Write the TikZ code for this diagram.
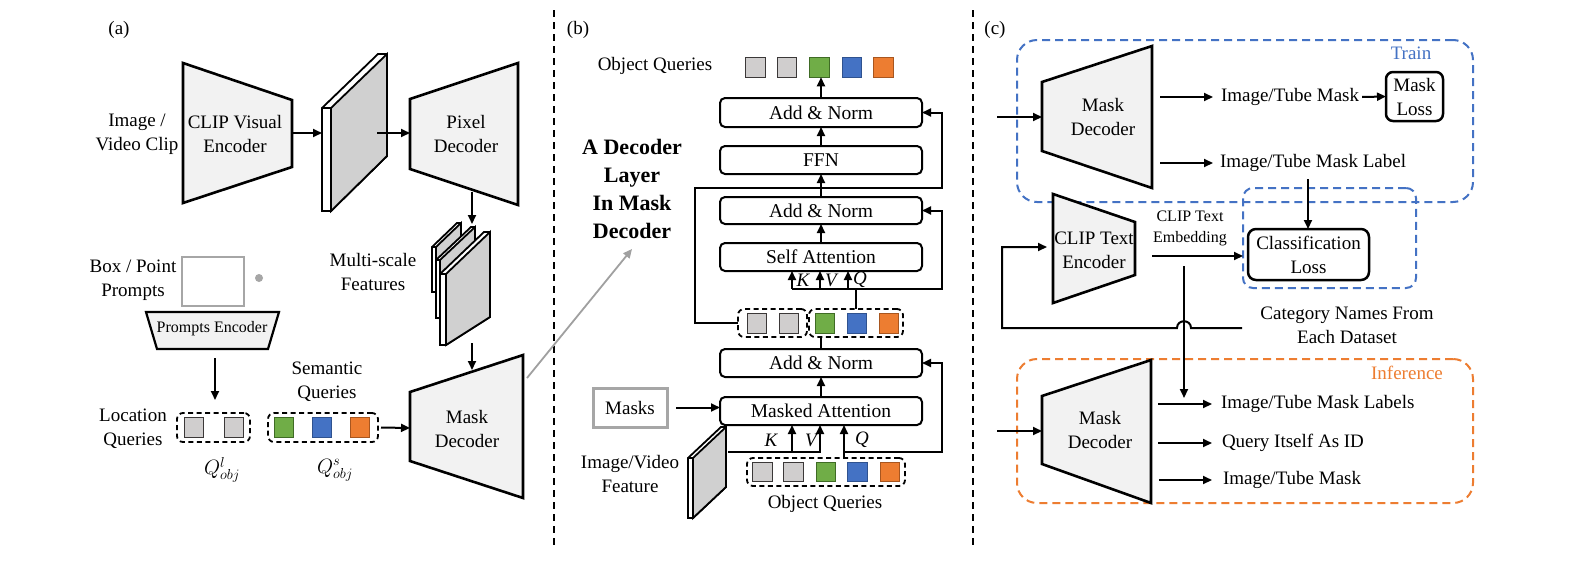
\documentclass[tikz,border=0pt]{standalone}
\usepackage{fontspec}
\setmainfont{Liberation Serif}
\usetikzlibrary{arrows.meta}
\definecolor{trapfill}{HTML}{F2F2F2}
\definecolor{slabgray}{HTML}{D0D0D0}
\definecolor{sqgray}{HTML}{D0CECE}
\definecolor{sqgrayb}{HTML}{3B3838}
\definecolor{qgreen}{HTML}{70AD47}
\definecolor{qgreenb}{HTML}{3F6B25}
\definecolor{qblue}{HTML}{4472C4}
\definecolor{qblueb}{HTML}{2F528F}
\definecolor{qorange}{HTML}{ED7D31}
\definecolor{qorangeb}{HTML}{A8561F}
\definecolor{trainblue}{HTML}{4472C4}
\definecolor{inforange}{HTML}{ED7D31}
\definecolor{promptgray}{HTML}{A6A6A6}
\definecolor{arrowgray}{HTML}{A0A0A0}
\newcommand\drawslab[7]{%
  \filldraw[slabedge, fill=white] (#1-#7,#6) -- (#1-#7,#3) -- (#2-#7,#4) -- (#2,#4) -- (#2,#5) -- (#1,#6) -- cycle;
  \filldraw[slabedge, fill=slabgray] (#1,#3) -- (#2,#4) -- (#2,#5) -- (#1,#6) -- cycle;
  \draw[slabedge] (#1-#7,#3) -- (#1,#3);
}
\begin{document}
\begin{tikzpicture}[x=1pt,y=-1pt,
  every node/.style={inner sep=0pt, outer sep=0pt},
  txt/.style={font=\fontsize{19}{24}\selectfont, align=center},
  stxt/.style={font=\fontsize{16}{21}\selectfont, align=center},
  itxt/.style={font=\fontsize{19}{24}\selectfont\itshape},
  arr/.style={line width=2pt, -{Triangle[length=9pt,width=8pt]}},
  grayarr/.style={line width=1.8pt, draw=arrowgray, -{Triangle[length=9pt,width=8pt]}},
  ln/.style={line width=2pt},
  sepline/.style={line width=2pt, dash pattern=on 7pt off 5pt},
  trap/.style={line width=2.6pt, fill=trapfill, line join=miter},
  slabedge/.style={line width=1.8pt, line join=miter},
  blk/.style={draw, line width=2pt, rounded corners=5pt, minimum width=202pt, font=\fontsize{19.5}{24}\selectfont},
  sq/.style={draw, line width=1.4pt, minimum size=19.5pt},
  sqg/.style={sq, fill=sqgray, draw=sqgrayb},
  sqgr/.style={sq, fill=qgreen, draw=qgreenb},
  sqbl/.style={sq, fill=qblue, draw=qblueb},
  sqor/.style={sq, fill=qorange, draw=qorangeb},
  grp/.style={draw, line width=1.8pt, dash pattern=on 5pt off 3.5pt, rounded corners=6pt},
  dbox/.style={line width=2pt, dash pattern=on 8pt off 5pt},
  lossbox/.style={draw, line width=2.5pt, txt},
]
\fill[white] (0,0) rectangle (1580,560);
\useasboundingbox (0,0) rectangle (1580,560);

% separators
\draw[sepline] (554,10) -- (554,548);
\draw[sepline] (973,10) -- (973,548);

%%%%%%%%%%%%%%%% (a)
\node[txt] (la) at (119,30) {(a)};
\node[txt] (inp) at (137,134) {Image /\\Video Clip};
\draw[trap] (183,63) -- (292,100) -- (292,167) -- (183,203) -- cycle;
\node[txt] (cve) at (235,134) {CLIP Visual\\Encoder};
\coordinate (cveR) at (292,133);
\drawslab{331}{387}{108}{54}{156}{211}{9}
\coordinate (slabL) at (322,133);
\coordinate (slabC) at (377,133);
\draw[arr] (cveR) -- (slabL);
\draw[trap] (410,99) -- (518,63) -- (518,205) -- (410,169) -- cycle;
\node[txt] (pd) at (466,134) {Pixel\\Decoder};
\coordinate (pdL) at (410,133);
\draw[arr] (slabC) -- (pdL);
\coordinate (pdB) at (472,192);
\coordinate (msT) at (472,224);
\draw[arr] (pdB) -- (msT);
\drawslab{436}{461}{247}{223}{285}{292}{4}
\drawslab{440}{475}{260}{227}{305}{318}{4}
\drawslab{446}{490}{274}{232}{317}{345}{6}
\node[txt] (msf) at (373,272) {Multi-scale\\Features};
\coordinate (msB) at (472,343);
\coordinate (mdT) at (472,370);
\draw[arr] (msB) -- (mdT);
\draw[trap] (410,392) -- (523,355) -- (523,498) -- (410,461) -- cycle;
\node[txt] (mda) at (467,429) {Mask\\Decoder};
\coordinate (mdaL) at (410,428);

\node[txt] (bpp) at (133,280) {Box / Point\\Prompts};
\node[draw=promptgray, line width=2.2pt, minimum width=62pt, minimum height=49pt] (pbox) at (213,281.5) {};
\node[circle, fill=promptgray, minimum size=8pt] (pdot) at (259,278) {};
\draw[trap, line width=2.2pt] (146,312) -- (279,312) -- (268,349) -- (157,349) -- cycle;
\node[stxt] (pe) at (212,329) {Prompts Encoder};
\coordinate (peB) at (215,358);
\coordinate (lqT) at (215,400);
\draw[arr] (peB) -- (lqT);

\node[txt] (lqt) at (133,429) {Location\\Queries};
\node[grp, minimum width=73pt, minimum height=29pt] (lqg) at (213.5,427.5) {};
\node[sqg] (lq1) at (194,427.5) {};
\node[sqg] (lq2) at (234,427.5) {};
\node[font=\fontsize{22}{26}\selectfont] (ql) at (222,470) {$Q^{l}_{obj}$};

\node[txt] (smt) at (327,382) {Semantic\\Queries};
\node[grp, minimum width=110pt, minimum height=29pt] (smg) at (323,427.5) {};
\node[sqgr] (sm1) at (284,427.5) {};
\node[sqbl] (sm2) at (322,427.5) {};
\node[sqor] (sm3) at (360,427.5) {};
\node[font=\fontsize{22}{26}\selectfont] (qs) at (335,470) {$Q^{s}_{obj}$};
\draw[arr] ([xshift=3pt]smg.east) -- (mdaL);

\coordinate (mdaTR) at (527,378);
\coordinate (dlT) at (632,249);
\draw[grayarr] (mdaTR) -- (dlT);

%%%%%%%%%%%%%%%% (b)
\node[txt] (lb) at (578,30) {(b)};
\node[font=\fontsize{22}{27.7}\selectfont\bfseries, align=center] (dlt) at (632,189) {A Decoder\\Layer\\In Mask\\Decoder};
\node[txt] (oqt) at (655,66) {Object Queries};
\node[sqg] (tq1) at (755.5,67.5) {};
\node[sqg] (tq2) at (787,67.5) {};
\node[sqgr] (tq3) at (819.5,67.5) {};
\node[sqbl] (tq4) at (852,67.5) {};
\node[sqor] (tq5) at (883.5,67.5) {};

\node[blk, minimum height=29pt] (an3) at (821,112.5) {Add \& Norm};
\node[blk, minimum height=28pt] (ffn) at (821,160) {FFN};
\node[blk, minimum height=27pt] (an2) at (821,210.5) {Add \& Norm};
\node[blk, minimum height=28pt] (sa) at (821,257) {Self Attention};
\node[blk, minimum height=28pt] (an1) at (821,363) {Add \& Norm};
\node[blk, minimum height=28pt] (ma) at (821,411) {Masked Attention};

\draw[arr] (an3.north) -- (an3.north |- tq3.south);
\draw[arr] (ffn.north) -- (an3.south);
\draw[arr] (an2.north) -- (ffn.south);
\draw[arr] (sa.north) -- (an2.south);
\draw[arr] (ma.north) -- (an1.south);

\node[grp, minimum width=69pt, minimum height=28pt] (mgL) at (772.5,323) {};
\node[grp, minimum width=94pt, minimum height=28pt] (mgR) at (856,323) {};
\node[sqg] (mq1) at (757,323.5) {};
\node[sqg] (mq2) at (789,323.5) {};
\node[sqgr] (mq3) at (825,323.5) {};
\node[sqbl] (mq4) at (857,323.5) {};
\node[sqor] (mq5) at (889,323.5) {};
\draw[ln] (an1.north) -- (an1.north |- mgR.south);

\draw[arr] (mgL.west) -- ++(-43,0) |- (942,188) |- (an3.east);
\coordinate (kvq) at (792,289);
\coordinate (kvqR) at (942,289);
\draw[ln] (mgR.north) -- (mgR.north |- kvq);
\draw[arr] (kvq) -- (kvqR) |- (an2.east);
\draw[arr] (kvq) -- (kvq |- sa.south);
\draw[arr] ([xshift=28pt]kvq) -- ([xshift=28pt]kvq |- sa.south);
\draw[arr] ([xshift=56pt]kvq) -- ([xshift=56pt]kvq |- sa.south);
\node[itxt] (k1) at (803,280) {K};
\node[itxt] (v1) at (831,280) {V};
\node[itxt] (q1) at (860,280) {Q};

\node[draw=promptgray, line width=3pt, minimum width=74pt, minimum height=39pt, txt] (masks) at (630,407.5) {Masks};
\draw[arr] ([xshift=9pt]masks.east) -- (masks.east -| ma.west);

\drawslab{693}{726}{458}{427}{487}{518}{5}
\node[txt] (ivf) at (630,474) {Image/Video\\Feature};

\node[grp, minimum width=158pt, minimum height=28pt] (bg) at (826,472) {};
\node[sqg] (bq1) at (762.5,472) {};
\node[sqg] (bq2) at (793.5,472) {};
\node[sqgr] (bq3) at (826,472) {};
\node[sqbl] (bq4) at (857.5,472) {};
\node[sqor] (bq5) at (890,472) {};
\node[txt] (oqb) at (825,504) {Object Queries};

\coordinate (featR) at (728,452);
\coordinate (kk) at (792,452);
\coordinate (vv) at (820,452);
\coordinate (qq) at (844,452);
\coordinate (rr) at (942,452);
\draw[arr] (featR) -- (vv) -- (vv |- ma.south);
\draw[arr] (kk) -- (kk |- ma.south);
\draw[arr] (bg.north -| qq) -- (qq |- ma.south);
\draw[arr] (qq) -- (rr) |- (an1.east);
\node[itxt] (k2) at (771,440) {K};
\node[itxt] (v2) at (811,440) {V};
\node[itxt] (q2) at (862,440) {Q};

%%%%%%%%%%%%%%%% (c)
\node[txt] (lc) at (995,30) {(c)};
\node[draw=trainblue, dbox, rounded corners=20pt, minimum width=456pt, minimum height=162pt] (train) at (1245,121) {};
\node[txt, text=trainblue] (trt) at (1411,53) {Train};
\draw[trap] (1042,82) -- (1152,46) -- (1152,188) -- (1042,151) -- cycle;
\node[txt] (mdc1) at (1103,117) {Mask\\Decoder};
\coordinate (in1) at (997,117);
\coordinate (md1L) at (1042,117);
\draw[arr] (in1) -- (md1L);
\node[txt, anchor=west] (itm1) at (1221,97) {Image/Tube Mask};
\coordinate (md1o1) at (1160,97);
\draw[arr] (md1o1) -- ([xshift=-8pt]itm1.west);
\node[lossbox, rounded corners=7pt, minimum width=57pt, minimum height=49pt] (mloss) at (1414.5,96.5) {Mask\\Loss};
\draw[arr] ([xshift=3pt]itm1.east) -- (mloss.west);
\node[txt, anchor=west] (itml) at (1220,163) {Image/Tube Mask Label};
\coordinate (md1o2) at (1160,163);
\draw[arr] (md1o2) -- ([xshift=-7pt]itml.west);

\node[lossbox, rounded corners=8pt, minimum width=121pt, minimum height=51pt] (closs) at (1308.5,254.5) {Classification\\Loss};
\node[draw=trainblue, dbox, rounded corners=10pt, minimum width=173pt, minimum height=100pt] (clbox) at (1329.5,238) {};
\coordinate (lblB) at (1308,179);
\draw[arr] (lblB) -- (lblB |- closs.north);

\draw[trap] (1053,194) -- (1135,222) -- (1135,275) -- (1053,303) -- cycle;
\node[txt] (cte) at (1094,250) {CLIP Text\\Encoder};
\node[stxt] (cteemb) at (1190,228) {CLIP Text\\Embedding};
\coordinate (cteR) at (1152,256);
\draw[arr] (cteR) -- (cteR -| clbox.west);
\coordinate (embD) at (1184,266);
\coordinate (embE) at (1184,398);
\draw[arr] (embD) -- (embE);

\node[txt] (cat) at (1347,325) {Category Names From\\Each Dataset};
\coordinate (catL) at (1242,328);
\coordinate (cteL) at (1047,247);
\draw[arr] (catL) -- (1191,328) .. controls (1191,319) and (1177,319) .. (1177,328) -- (1002,328) |- (cteL);

\node[draw=inforange, dbox, rounded corners=20pt, minimum width=456pt, minimum height=144pt] (inf) at (1245,431) {};
\node[txt, text=inforange] (inft) at (1407,373) {Inference};
\draw[trap] (1042,396) -- (1151,360) -- (1151,503) -- (1042,464) -- cycle;
\node[txt] (mdc2) at (1100,430) {Mask\\Decoder};
\coordinate (in2) at (997,431);
\coordinate (md2L) at (1042,431);
\draw[arr] (in2) -- (md2L);
\node[txt, anchor=west] (o1) at (1221,404) {Image/Tube Mask Labels};
\node[txt, anchor=west] (o2) at (1222,443) {Query Itself As ID};
\node[txt, anchor=west] (o3) at (1223,480) {Image/Tube Mask};
\coordinate (s1) at (1158,404);
\coordinate (s2) at (1158,443);
\coordinate (s3) at (1159,480);
\draw[arr] (s1) -- ([xshift=-9pt]o1.west);
\draw[arr] (s2) -- ([xshift=-10pt]o2.west);
\draw[arr] (s3) -- ([xshift=-11pt]o3.west);
\end{tikzpicture}
\end{document}
